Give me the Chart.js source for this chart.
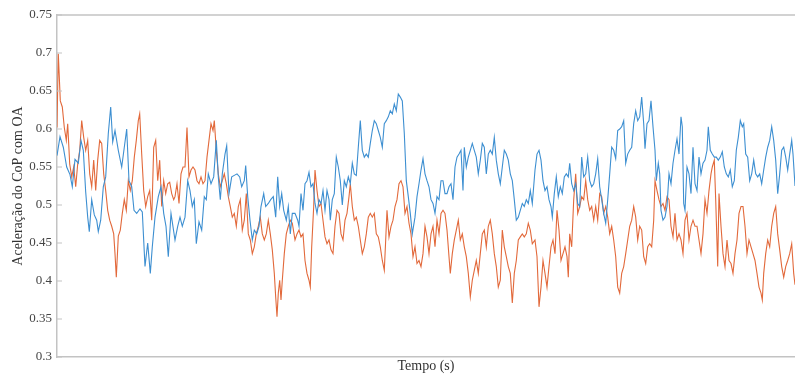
<!DOCTYPE html>
<html>
<head>
<meta charset="utf-8">
<script src="https://cdn.jsdelivr.net/npm/chart.js@4/dist/chart.umd.min.js"></script>
<style>
  html, body { margin: 0; padding: 0; background: #fff; }
  #wrap { width: 795px; height: 377px; }
</style>
</head>
<body>
<div id="wrap"><canvas id="graph"></canvas></div>
<script>
// tempo (unidades arbitrarias, eixo sem rotulos) e valores
var blueTime = [
  0,3,6.3,9.7,13,15.3,18,21.3,24,26.3,28.7,30.7,32.3,34.7,37.3,39.7,41.3,43.7,46.3,48.7,51.3,53.7,55.7,58,61.3,64.7,67.3,69.7,72,74.7,77,79.7,83,85.3,88,90.7,93.3,95.3,98,101.3,104,106.7,109,111.3,114,
  118,120.7,123,125.3,128,130.7,133,135.3,137.3,139.3,142,144.7,147.3,149.3,151.3,154,156.7,159.3,161.3,163.3,165.3,168,169.7,172,174.7,177.3,180,182.7,184.7,187.3,188.7,190.7,193,195.3,197.3,199.7,202,204,206.7,208.7,211.3,213.7,216.3,218.7,220.7,222.7,224.7,226.7,229.3,231.3,233.3,235.3,
  238,240.7,242,244,246,248,250,252,254,256,258,260,262,264,266,268,270,272,273.3,275.3,277.3,279.3,281.3,283.3,285.3,287.3,289.3,291.3,293.3,295.3,297.3,299.3,301.3,303.3,305.3,307.3,309.3,311.3,313.3,315.3,317.3,319.3,321.3,323.3,325.3,327.3,329.3,331.3,333.3,335.3,337.3,339.3,341.3,343.3,345.3,347.3,349.3,351.3,353.3,355.3,
  358,360,362,364,366,368,370,372,374,376,378,380,382,384,386,388,390,392,394,396,398,400,402,404,406,
  407.3,409.3,411.3,413.3,415.3,417.3,419.3,421.3,423.3,425.3,427.3,429.3,431.3,433.3,435.3,437.3,439.3,441.3,443.3,445.3,447.3,449.3,451.3,453.3,455.3,457.3,459.3,461.3,463.3,465.3,467.3,469.3,471.3,473.3,475.3,
  478,480,482,484,486,488,490,492,494,495.3,497.3,499.3,501.3,503.3,505.3,507.3,509.3,511.3,512.7,
  514.7,516.7,518.7,520.7,522.7,524.7,526.7,528.7,530.7,532.7,534.7,536.7,538.7,540.7,542.7,544.7,546.7,548.7,550.7,552.7,554.7,556.7,558.7,560.7,562.7,564.7,566.7,568.7,570.7,572.7,574.7,576.7,578.7,580.7,582.7,584.7,586.7,588,590,592,594,596,
  598,599.3,601.3,602.7,604,606,608,610,612,614,616,618,620,622,624,625.3,626.7,628,630,632,634,636,638,640,642,644,646,648,650,651.3,653.3,655.3,657.3,659.3,661.3,663.3,665.3,667.3,669.3,671.3,673.3,675.3,677.3,679.3,681.3,683.3,685.3,686.7,688.7,690.7,692.7,694.7,696.7,698.7,700.7,702.7,704.7,706.7,708.7,710.7,712.7,714.7,716.7,718.7,720.7,722.7,724.7,726.7,728.7,730.7,732.7,734.7,736,738
];
var blueValues = [
  0.565,0.59,0.576,0.55,0.54,0.524,0.56,0.555,0.585,0.572,0.517,0.484,0.465,0.507,0.487,0.48,0.465,0.48,0.524,0.537,0.594,0.629,0.583,0.598,0.572,0.55,0.576,0.6,0.532,0.524,0.493,0.489,0.495,0.491,0.419,0.45,0.41,0.445,0.484,0.511,0.524,0.489,0.472,0.432,0.489,
  0.454,0.472,0.484,0.472,0.484,0.532,0.519,0.498,0.507,0.449,0.478,0.467,0.511,0.507,0.541,0.528,0.537,0.585,0.537,0.507,0.541,0.567,0.578,0.515,0.537,0.539,0.541,0.537,0.524,0.532,0.552,0.511,0.48,0.454,0.467,0.462,0.472,0.498,0.515,0.498,0.502,0.507,0.511,0.484,0.537,0.498,0.515,0.493,0.48,0.498,0.462,0.489,
  0.489,0.48,0.472,0.515,0.493,0.528,0.532,0.543,0.524,0.528,0.502,0.489,0.507,0.502,0.519,0.493,0.519,0.507,0.48,0.507,0.515,0.563,0.55,0.532,0.5,0.532,0.524,0.537,0.528,0.555,0.541,0.539,0.576,0.611,0.572,0.563,0.567,0.563,0.581,0.598,0.611,0.607,0.598,0.589,0.576,0.607,0.611,0.616,0.624,0.62,0.633,0.624,0.646,0.642,0.637,0.594,0.532,0.511,0.489,0.462,
  0.484,0.511,0.528,0.546,0.561,0.541,0.532,0.524,0.507,0.502,0.489,0.511,0.507,0.532,0.532,0.515,0.515,0.524,0.528,0.507,0.55,0.563,0.567,0.572,0.519,
  0.576,0.55,0.563,0.572,0.581,0.572,0.563,0.541,0.559,0.581,0.576,0.541,0.567,0.572,0.567,0.589,0.559,0.541,0.528,0.55,0.572,0.567,0.559,0.541,0.532,0.507,0.48,0.484,0.493,0.502,0.498,0.507,0.502,0.519,0.502,
  0.546,0.567,0.572,0.559,0.532,0.519,0.524,0.507,0.498,0.484,0.515,0.537,0.511,0.524,0.515,0.537,0.541,0.537,0.555,
  0.528,0.519,0.528,0.502,0.498,0.563,0.537,0.541,0.563,0.532,0.524,0.528,0.541,0.561,0.524,0.507,0.489,0.476,0.507,0.541,0.576,0.572,0.561,0.598,0.6,0.603,0.611,0.555,0.567,0.572,0.576,0.607,0.624,0.611,0.616,0.642,0.607,0.574,0.607,0.611,0.637,0.603,
  0.572,0.532,0.555,0.541,0.493,0.48,0.484,0.498,0.541,0.528,0.555,0.572,0.587,0.567,0.616,0.603,0.502,0.493,0.55,0.541,0.515,0.576,0.528,0.519,0.563,0.541,0.555,0.559,0.572,0.603,0.572,0.567,0.563,0.563,0.559,0.563,0.57,0.55,0.541,0.537,0.546,0.524,0.532,0.572,0.589,0.611,0.603,0.607,0.567,0.563,0.532,0.541,0.559,0.541,0.537,0.541,0.528,0.546,0.563,0.576,0.585,0.603,0.585,0.559,0.515,0.541,0.572,0.576,0.563,0.546,0.567,0.585,0.567,0.525
];

var orangeTime = [
  0,1.3,3.3,5.3,7.3,9.3,10.7,12.7,14.7,16.7,18.7,20.7,22.7,24.7,26.7,28.7,30.7,32.7,34.7,36.7,38.7,40.7,42.7,44.7,46.7,48.7,50.7,52.7,54.7,56.7,58,59.3,61.3,63.3,65.3,67.3,69.3,71.3,73.3,75.3,77.3,79.3,81.3,82.7,84.7,86.7,88.7,90.7,92.7,94.7,96.7,98.7,100.7,102.7,104.7,106.7,108.7,110.7,112.7,114.7,116.7,
  118,120,122,124,126,128,130,132,134,136,138,140,142,144,146,148,150,152,154,156,157.3,
  159.3,161.3,163.3,165.3,167.3,169.3,171.3,173.3,175.3,177.3,179.3,181.3,183.3,185.3,187.3,189.3,191.3,193.3,195.3,197.3,199.3,201.3,203.3,205.3,207.3,209.3,211.3,213.3,215.3,217.3,
  218.7,220,221.3,222.7,224,225.3,227.3,229.3,231.3,233.3,235.3,
  238,240,242,244,246,248,250,252,253.3,254.7,256.7,
  258,260,262,264,266,268,270,272,274,276,278,280,282,284,286,288,290,292,293.3,
  295.3,297.3,299.3,301.3,303.3,305.3,307.3,309.3,311.3,313.3,315.3,317.3,319.3,321.3,323.3,325.3,327.3,328.7,330,
  332,334,336,338,340,342,344,346,348,350,352,354,356,
  358,360,362,364,366,368,370,372,374,376,378,380,382,384,386,388,390,392,393.3,
  395.3,397.3,399.3,401.3,403.3,405.3,407.3,409.3,411.3,413.3,415.3,417.3,419.3,421.3,423.3,425.3,427.3,429.3,431.3,433.3,435.3,437.3,439.3,441.3,443.3,445.3,447.3,449.3,451.3,453.3,455.3,457.3,459.3,461.3,463.3,465.3,467.3,469.3,471.3,473.3,475.3,
  478,480,482,484,486,488,490,492,494,496,498,500,502,504,506,508,510,511.3,512.7,
  514.7,516.7,518.7,520.7,522.7,524.7,526.7,528.7,530.7,532.7,534.7,536.7,538.7,540.7,542.7,544.7,546.7,548.7,550.7,552.7,554.7,556.7,558.7,560.7,562.7,564.7,566.7,568.7,570.7,572.7,574.7,576.7,578.7,580.7,582.7,584.7,586.7,588.7,590.7,592.7,594.7,596.7,
  598,600,602,604,606,608,610,612,614,616,618,620,622,624,626,628,630,632,634,636,638,640,642,644,646,648,650,652,654,
  655.3,657.3,658.7,660.7,662,
  664,666,668,670,672,674,676,678,680,682,684,686,688,690,692,694,696,698,700,702,704,
  705.3,706.7,708.7,710.7,712.7,714.7,716.7,718.7,720.7,722.7,724.7,726.7,728.7,730.7,732.7,734.7,736.7,738
];
var orangeValues = [
  0.602,0.699,0.637,0.629,0.602,0.585,0.607,0.554,0.537,0.55,0.524,0.554,0.572,0.611,0.589,0.572,0.585,0.541,0.524,0.559,0.519,0.559,0.585,0.581,0.541,0.519,0.493,0.48,0.472,0.462,0.436,0.405,0.459,0.467,0.489,0.507,0.493,0.532,0.519,0.532,0.563,0.585,0.611,0.62,0.567,0.519,0.498,0.511,0.519,0.48,0.576,0.585,0.532,0.559,0.498,0.532,0.515,0.528,0.53,0.515,0.507,
  0.511,0.528,0.502,0.541,0.55,0.55,0.602,0.537,0.546,0.55,0.546,0.532,0.528,0.537,0.528,0.532,0.563,0.585,0.607,0.598,0.611,
  0.572,0.541,0.524,0.532,0.541,0.528,0.511,0.498,0.484,0.489,0.472,0.498,0.507,0.467,0.48,0.515,0.462,0.454,0.436,0.445,0.462,0.472,0.484,0.462,0.454,0.462,0.48,0.462,0.441,0.41,
  0.379,0.353,0.384,0.401,0.375,0.401,0.436,0.462,0.472,0.48,0.476,
  0.454,0.462,0.467,0.458,0.462,0.427,0.41,0.401,0.392,0.445,0.498,
  0.546,0.519,0.498,0.502,0.48,0.458,0.449,0.454,0.441,0.436,0.472,0.493,0.489,0.462,0.454,0.48,0.489,0.511,0.528,
  0.498,0.48,0.484,0.472,0.454,0.436,0.445,0.462,0.484,0.489,0.484,0.489,0.462,0.458,0.445,0.427,0.414,0.454,0.493,
  0.458,0.472,0.48,0.498,0.507,0.528,0.532,0.524,0.489,0.498,0.476,0.462,0.432,
  0.445,0.423,0.427,0.419,0.436,0.472,0.458,0.436,0.462,0.472,0.445,0.48,0.462,0.489,0.493,0.489,0.467,0.432,0.41,
  0.436,0.454,0.467,0.48,0.454,0.462,0.445,0.432,0.41,0.379,0.401,0.414,0.427,0.41,0.436,0.462,0.467,0.445,0.472,0.48,0.462,0.436,0.419,0.392,0.401,0.467,0.445,0.432,0.419,0.41,0.371,0.41,0.427,0.454,0.458,0.462,0.458,0.462,0.476,0.467,0.449,
  0.454,0.432,0.366,0.392,0.427,0.41,0.392,0.419,0.445,0.454,0.436,0.493,0.467,0.427,0.436,0.445,0.432,0.405,0.462,
  0.445,0.507,0.541,0.489,0.498,0.511,0.507,0.532,0.507,0.493,0.498,0.48,0.498,0.48,0.515,0.511,0.489,0.498,0.484,0.462,0.472,0.454,0.432,0.392,0.384,0.41,0.419,0.436,0.454,0.472,0.48,0.498,0.484,0.454,0.472,0.467,0.432,0.423,0.445,0.449,0.445,0.48,
  0.532,0.519,0.507,0.498,0.502,0.493,0.511,0.507,0.472,0.458,0.489,0.454,0.462,0.454,0.436,0.48,0.489,0.454,0.472,0.48,0.472,0.472,0.454,0.436,0.462,0.507,0.489,0.519,0.541,
  0.55,0.559,0.507,0.419,0.515,
  0.472,0.436,0.419,0.454,0.427,0.423,0.41,0.436,0.454,0.489,0.498,0.498,0.472,0.436,0.454,0.445,0.436,0.427,0.41,0.392,0.384,
  0.375,0.41,0.436,0.454,0.445,0.472,0.489,0.498,0.462,0.441,0.419,0.405,0.419,0.427,0.436,0.449,0.41,0.395
];

var yTicks = [0.3, 0.35, 0.4, 0.45, 0.5, 0.55, 0.6, 0.65, 0.7, 0.75];

if (blueTime.length !== blueValues.length) console.log('blue', blueTime.length, blueValues.length);
if (orangeTime.length !== orangeValues.length) console.log('orange', orangeTime.length, orangeValues.length);

function pts(t, v) {
  return t.map(function (x, i) { return { x: x, y: v[i] }; });
}

var axisGrey = '#c3c3c3';
var serif = 'Liberation Serif, Times New Roman, serif';

// moldura de cima e marcas internas no eixo y (estilo matlab)
var frame = {
  id: 'frame',
  afterDraw: function (chart) {
    var c = chart.ctx, a = chart.chartArea, y = chart.scales.y;
    c.save();
    c.strokeStyle = axisGrey;
    c.lineWidth = 1.5;
    c.beginPath();
    c.moveTo(a.left, a.top);
    c.lineTo(a.right, a.top);
    c.stroke();
    c.lineWidth = 1;
    c.beginPath();
    yTicks.forEach(function (t) {
      var p = y.getPixelForValue(t);
      c.moveTo(a.left, p);
      c.lineTo(a.left + 5, p);
    });
    c.stroke();
    c.restore();
  }
};

var context = document.getElementById('graph').getContext('2d');
const chart = new Chart(context, {
  type: 'line',
  data: {
    datasets: [
      {
        label: 'azul',
        data: pts(blueTime, blueValues),
        borderColor: '#3d8fd1',
        borderWidth: 1.1,
        pointRadius: 0,
        tension: 0
      },
      {
        label: 'laranja',
        data: pts(orangeTime, orangeValues),
        borderColor: '#e2693b',
        borderWidth: 1.1,
        pointRadius: 0,
        tension: 0
      }
    ]
  },
  options: {
    responsive: true,
    maintainAspectRatio: false,
    devicePixelRatio: 1,
    animation: false,
    layout: { padding: { left: 0, right: 0, top: 15, bottom: 0 } },
    plugins: { legend: { display: false }, tooltip: { enabled: false } },
    scales: {
      x: {
        type: 'linear',
        min: 0,
        max: 738,
        ticks: { display: false },
        grid: { display: false, drawTicks: false },
        border: { display: true, color: axisGrey, width: 1.5 },
        title: {
          display: true,
          text: 'Tempo (s)',
          color: '#333',
          font: { family: serif, size: 14 },
          padding: { top: 0, bottom: 2 }
        },
        afterFit: function (s) { s.height = 20; }
      },
      y: {
        min: 0.3,
        max: 0.75,
        afterBuildTicks: function (s) {
          s.ticks = yTicks.map(function (v) { return { value: v }; });
        },
        ticks: {
          color: '#444',
          font: { family: serif, size: 13 },
          padding: 5,
          callback: function (v) { return String(v); }
        },
        grid: { display: false, drawTicks: false },
        border: { display: true, color: axisGrey, width: 1.5 },
        title: {
          display: true,
          text: 'Aceleração do CoP com OA',
          color: '#333',
          font: { family: serif, size: 14 },
          padding: { top: 10, bottom: 0 }
        },
        afterFit: function (s) { s.width = 57; }
      }
    }
  },
  plugins: [frame]
});
</script>
</body>
</html>
